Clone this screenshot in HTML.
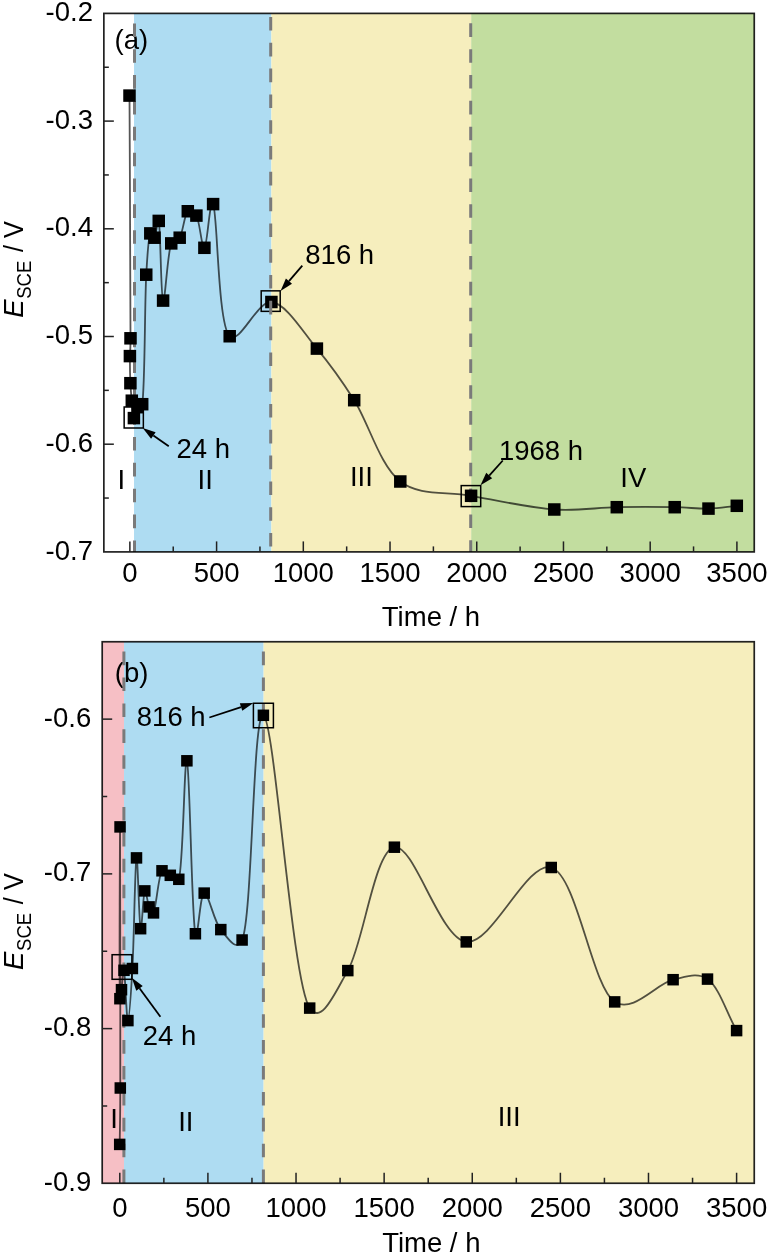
<!DOCTYPE html><html><head><meta charset="utf-8"><style>html,body{margin:0;padding:0;background:#fff;overflow:hidden}svg{display:block}</style></head><body>
<svg width="768" height="1256" viewBox="0 0 768 1256" font-family="'Liberation Sans', sans-serif" fill="#000">
<rect x="103.85" y="13.40" width="30.18" height="538.50" fill="#ffffff"/>
<rect x="134.03" y="13.40" width="137.36" height="538.50" fill="#aedcf2"/>
<rect x="271.40" y="13.40" width="199.80" height="538.50" fill="#f6eebd"/>
<rect x="471.20" y="13.40" width="283.05" height="538.50" fill="#c2dd9f"/>
<text x="114.50" y="49.20" font-size="27.5">(a)</text>
<text x="121.40" y="488.50" font-size="27.5" text-anchor="middle">I</text>
<text x="205.20" y="488.50" font-size="27.5" text-anchor="middle">II</text>
<text x="361.40" y="485.90" font-size="27.5" text-anchor="middle">III</text>
<text x="633.30" y="486.60" font-size="27.5" text-anchor="middle">IV</text>
<line x1="134.50" y1="23.40" x2="134.50" y2="551.90" stroke="#7a7a7a" stroke-width="3" stroke-dasharray="13.6 12.25"/>
<line x1="470.70" y1="23.30" x2="470.70" y2="551.90" stroke="#7a7a7a" stroke-width="3" stroke-dasharray="13.6 12.25"/>
<path d="M129.50,95.60 C129.83,176.50 130.64,303.11 130.50,338.30 C130.43,356.62 129.93,349.12 129.90,356.10 C129.86,363.85 130.05,375.50 130.40,383.20 C130.72,390.11 131.22,394.88 131.80,400.70 C132.38,406.52 132.87,417.48 133.90,418.10 C134.83,418.66 135.93,409.51 137.50,407.20 C138.81,405.27 140.93,411.04 142.20,404.20 C144.99,389.18 144.65,303.68 146.25,274.70 C147.46,252.90 148.38,237.22 150.30,233.40 C151.48,231.05 153.24,238.76 154.50,237.70 C156.15,236.33 157.51,216.87 158.75,220.90 C160.57,226.80 160.87,298.61 163.10,300.60 C165.15,302.44 167.54,252.68 171.25,243.40 C173.65,237.39 177.20,241.78 179.70,237.70 C182.91,232.47 184.52,214.01 187.80,211.25 C190.32,209.13 193.92,211.43 196.40,215.60 C199.78,221.28 201.72,248.75 204.40,247.80 C207.28,246.78 209.63,197.90 213.10,204.10 C217.66,212.25 217.55,324.66 229.70,336.25 C239.39,345.50 257.22,300.61 271.40,302.00 C286.26,303.46 303.07,332.18 316.90,348.60 C330.65,364.93 341.04,379.47 354.20,400.20 C368.69,423.02 379.87,465.76 400.30,481.50 C419.45,496.26 445.99,491.22 471.10,495.80 C497.20,500.56 529.31,507.73 554.30,509.50 C577.49,511.14 596.55,507.58 616.80,507.20 C636.66,506.83 658.82,506.92 674.70,507.20 C688.58,507.45 697.96,508.87 708.50,508.60 C718.60,508.34 727.37,506.73 736.80,505.80" fill="none" stroke="#555" stroke-width="1.8" style="mix-blend-mode:multiply"/>
<rect x="123.25" y="89.35" width="12.50" height="12.50" fill="#000"/>
<rect x="124.25" y="332.05" width="12.50" height="12.50" fill="#000"/>
<rect x="123.65" y="349.85" width="12.50" height="12.50" fill="#000"/>
<rect x="124.15" y="376.95" width="12.50" height="12.50" fill="#000"/>
<rect x="125.55" y="394.45" width="12.50" height="12.50" fill="#000"/>
<rect x="127.65" y="411.85" width="12.50" height="12.50" fill="#000"/>
<rect x="131.25" y="400.95" width="12.50" height="12.50" fill="#000"/>
<rect x="135.95" y="397.95" width="12.50" height="12.50" fill="#000"/>
<rect x="140.00" y="268.45" width="12.50" height="12.50" fill="#000"/>
<rect x="144.05" y="227.15" width="12.50" height="12.50" fill="#000"/>
<rect x="148.25" y="231.45" width="12.50" height="12.50" fill="#000"/>
<rect x="152.50" y="214.65" width="12.50" height="12.50" fill="#000"/>
<rect x="156.85" y="294.35" width="12.50" height="12.50" fill="#000"/>
<rect x="165.00" y="237.15" width="12.50" height="12.50" fill="#000"/>
<rect x="173.45" y="231.45" width="12.50" height="12.50" fill="#000"/>
<rect x="181.55" y="205.00" width="12.50" height="12.50" fill="#000"/>
<rect x="190.15" y="209.35" width="12.50" height="12.50" fill="#000"/>
<rect x="198.15" y="241.55" width="12.50" height="12.50" fill="#000"/>
<rect x="206.85" y="197.85" width="12.50" height="12.50" fill="#000"/>
<rect x="223.45" y="330.00" width="12.50" height="12.50" fill="#000"/>
<rect x="265.15" y="295.75" width="12.50" height="12.50" fill="#000"/>
<rect x="310.65" y="342.35" width="12.50" height="12.50" fill="#000"/>
<rect x="347.95" y="393.95" width="12.50" height="12.50" fill="#000"/>
<rect x="394.05" y="475.25" width="12.50" height="12.50" fill="#000"/>
<rect x="464.85" y="489.55" width="12.50" height="12.50" fill="#000"/>
<rect x="548.05" y="503.25" width="12.50" height="12.50" fill="#000"/>
<rect x="610.55" y="500.95" width="12.50" height="12.50" fill="#000"/>
<rect x="668.45" y="500.95" width="12.50" height="12.50" fill="#000"/>
<rect x="702.25" y="502.35" width="12.50" height="12.50" fill="#000"/>
<rect x="730.55" y="499.55" width="12.50" height="12.50" fill="#000"/>
<rect x="124.15" y="407.00" width="19.20" height="21.00" fill="none" stroke="#000" stroke-width="1.5"/>
<rect x="261.20" y="290.85" width="19.00" height="20.50" fill="none" stroke="#000" stroke-width="1.5"/>
<rect x="461.20" y="485.60" width="19.50" height="21.00" fill="none" stroke="#000" stroke-width="1.5"/>
<line x1="270.70" y1="17.00" x2="270.70" y2="551.90" stroke="#7a7a7a" stroke-width="3" stroke-dasharray="13.6 12.20"/>
<line x1="168.75" y1="446.25" x2="153.37" y2="435.53" stroke="#000" stroke-width="1.8"/>
<polygon points="142.70,428.10 155.65,432.25 151.08,438.81" fill="#000"/>
<line x1="302.30" y1="265.60" x2="288.97" y2="281.14" stroke="#000" stroke-width="1.8"/>
<polygon points="280.50,291.00 285.93,278.53 292.00,283.74" fill="#000"/>
<line x1="502.80" y1="460.50" x2="489.21" y2="475.55" stroke="#000" stroke-width="1.8"/>
<polygon points="480.50,485.20 486.24,472.87 492.18,478.23" fill="#000"/>
<text x="176.50" y="457.90" font-size="27.5">24 h</text>
<text x="305.30" y="263.90" font-size="27.5">816 h</text>
<text x="498.90" y="459.60" font-size="27.5">1968 h</text>
<rect x="103.85" y="13.40" width="650.40" height="538.50" fill="none" stroke="#222" stroke-width="1.7" style="mix-blend-mode:multiply"/>
<line x1="129.87" y1="551.90" x2="129.87" y2="541.40" stroke="#222" stroke-width="1.5"/>
<text x="129.87" y="581.50" font-size="27.5" text-anchor="middle">0</text>
<line x1="173.23" y1="551.90" x2="173.23" y2="546.40" stroke="#222" stroke-width="1.5"/>
<line x1="216.59" y1="551.90" x2="216.59" y2="541.40" stroke="#222" stroke-width="1.5"/>
<text x="216.59" y="581.50" font-size="27.5" text-anchor="middle">500</text>
<line x1="259.95" y1="551.90" x2="259.95" y2="546.40" stroke="#222" stroke-width="1.5"/>
<line x1="303.31" y1="551.90" x2="303.31" y2="541.40" stroke="#222" stroke-width="1.5"/>
<text x="303.31" y="581.50" font-size="27.5" text-anchor="middle">1000</text>
<line x1="346.67" y1="551.90" x2="346.67" y2="546.40" stroke="#222" stroke-width="1.5"/>
<line x1="390.03" y1="551.90" x2="390.03" y2="541.40" stroke="#222" stroke-width="1.5"/>
<text x="390.03" y="581.50" font-size="27.5" text-anchor="middle">1500</text>
<line x1="433.39" y1="551.90" x2="433.39" y2="546.40" stroke="#222" stroke-width="1.5"/>
<line x1="476.75" y1="551.90" x2="476.75" y2="541.40" stroke="#222" stroke-width="1.5"/>
<text x="476.75" y="581.50" font-size="27.5" text-anchor="middle">2000</text>
<line x1="520.11" y1="551.90" x2="520.11" y2="546.40" stroke="#222" stroke-width="1.5"/>
<line x1="563.47" y1="551.90" x2="563.47" y2="541.40" stroke="#222" stroke-width="1.5"/>
<text x="563.47" y="581.50" font-size="27.5" text-anchor="middle">2500</text>
<line x1="606.83" y1="551.90" x2="606.83" y2="546.40" stroke="#222" stroke-width="1.5"/>
<line x1="650.19" y1="551.90" x2="650.19" y2="541.40" stroke="#222" stroke-width="1.5"/>
<text x="650.19" y="581.50" font-size="27.5" text-anchor="middle">3000</text>
<line x1="693.55" y1="551.90" x2="693.55" y2="546.40" stroke="#222" stroke-width="1.5"/>
<line x1="736.91" y1="551.90" x2="736.91" y2="541.40" stroke="#222" stroke-width="1.5"/>
<text x="736.91" y="581.50" font-size="27.5" text-anchor="middle">3500</text>
<text x="93.00" y="21.00" font-size="27.5" text-anchor="end">-0.2</text>
<line x1="103.85" y1="67.25" x2="108.85" y2="67.25" stroke="#222" stroke-width="1.5"/>
<line x1="103.85" y1="121.10" x2="113.85" y2="121.10" stroke="#222" stroke-width="1.5"/>
<text x="93.00" y="128.70" font-size="27.5" text-anchor="end">-0.3</text>
<line x1="103.85" y1="174.95" x2="108.85" y2="174.95" stroke="#222" stroke-width="1.5"/>
<line x1="103.85" y1="228.80" x2="113.85" y2="228.80" stroke="#222" stroke-width="1.5"/>
<text x="93.00" y="236.40" font-size="27.5" text-anchor="end">-0.4</text>
<line x1="103.85" y1="282.65" x2="108.85" y2="282.65" stroke="#222" stroke-width="1.5"/>
<line x1="103.85" y1="336.50" x2="113.85" y2="336.50" stroke="#222" stroke-width="1.5"/>
<text x="93.00" y="344.10" font-size="27.5" text-anchor="end">-0.5</text>
<line x1="103.85" y1="390.35" x2="108.85" y2="390.35" stroke="#222" stroke-width="1.5"/>
<line x1="103.85" y1="444.20" x2="113.85" y2="444.20" stroke="#222" stroke-width="1.5"/>
<text x="93.00" y="451.80" font-size="27.5" text-anchor="end">-0.6</text>
<line x1="103.85" y1="498.05" x2="108.85" y2="498.05" stroke="#222" stroke-width="1.5"/>
<text x="93.00" y="559.50" font-size="27.5" text-anchor="end">-0.7</text>
<text x="431.00" y="625.80" font-size="27.5" text-anchor="middle">Time / h</text>
<text transform="translate(22.50,317.80) rotate(-90)" font-size="27.5" font-style="italic">E</text>
<text transform="translate(30.50,298.80) rotate(-90)" font-size="20.6" textLength="38.2" lengthAdjust="spacingAndGlyphs">SCE</text>
<text transform="translate(22.50,252.00) rotate(-90)" font-size="27.5" textLength="31.0" lengthAdjust="spacingAndGlyphs">/ V</text>
<rect x="102.20" y="641.75" width="21.83" height="541.50" fill="#f6bfc5"/>
<rect x="124.03" y="641.75" width="139.57" height="541.50" fill="#aedcf2"/>
<rect x="263.60" y="641.75" width="490.65" height="541.50" fill="#f6eebd"/>
<text x="114.80" y="681.50" font-size="27.5">(b)</text>
<text x="114.00" y="1127.70" font-size="27.5" text-anchor="middle">I</text>
<text x="185.80" y="1130.60" font-size="27.5" text-anchor="middle">II</text>
<text x="509.20" y="1126.25" font-size="27.5" text-anchor="middle">III</text>
<line x1="123.90" y1="651.60" x2="123.90" y2="1183.25" stroke="#7a7a7a" stroke-width="3" stroke-dasharray="13.6 12.30"/>
<line x1="263.40" y1="651.60" x2="263.40" y2="1183.25" stroke="#7a7a7a" stroke-width="3" stroke-dasharray="13.6 12.30"/>
<path d="M119.70,1144.40 C119.90,1125.60 120.20,1123.23 120.30,1088.00 C120.44,1036.32 120.12,834.69 120.05,826.90 C119.99,819.89 119.17,984.34 119.90,998.70 C120.25,1005.60 120.90,993.76 121.50,989.70 C122.23,984.79 123.08,968.08 124.00,970.30 C125.16,973.11 126.51,1020.75 127.90,1020.60 C129.31,1020.45 131.07,991.85 132.40,968.50 C134.01,940.34 135.05,861.39 136.50,857.90 C137.80,854.78 139.09,925.75 140.60,928.70 C141.89,931.22 143.20,892.93 144.80,890.90 C146.10,889.25 147.47,903.16 149.10,906.90 C150.43,909.97 151.89,915.23 153.50,912.90 C155.99,909.28 158.45,875.20 162.00,870.80 C164.43,867.78 167.50,873.88 170.30,875.30 C173.10,876.72 176.45,885.69 178.80,879.30 C183.23,867.25 184.26,756.48 186.90,760.80 C189.80,765.54 191.77,921.40 195.40,933.75 C197.94,942.40 199.94,893.68 204.20,893.10 C208.43,892.53 213.90,921.81 220.80,929.60 C226.85,936.43 236.11,953.26 242.10,940.00 C252.62,916.71 252.77,709.99 263.40,715.30 C274.78,720.98 291.81,981.21 309.70,1008.10 C321.36,1025.63 335.24,992.12 347.80,970.60 C363.55,943.63 374.28,851.09 394.40,847.20 C414.00,843.41 439.91,938.86 466.25,941.90 C492.25,944.91 527.06,860.13 551.25,867.50 C577.16,875.40 591.87,987.01 614.70,1001.90 C633.08,1013.89 656.94,983.25 673.10,979.70 C687.02,976.64 697.43,972.22 707.50,979.10 C719.03,986.98 726.90,1013.43 736.60,1030.60" fill="none" stroke="#555" stroke-width="1.8" style="mix-blend-mode:multiply"/>
<rect x="113.95" y="1138.65" width="11.50" height="11.50" fill="#000"/>
<rect x="114.55" y="1082.25" width="11.50" height="11.50" fill="#000"/>
<rect x="114.30" y="821.15" width="11.50" height="11.50" fill="#000"/>
<rect x="114.15" y="992.95" width="11.50" height="11.50" fill="#000"/>
<rect x="115.75" y="983.95" width="11.50" height="11.50" fill="#000"/>
<rect x="118.25" y="964.55" width="11.50" height="11.50" fill="#000"/>
<rect x="122.15" y="1014.85" width="11.50" height="11.50" fill="#000"/>
<rect x="126.65" y="962.75" width="11.50" height="11.50" fill="#000"/>
<rect x="130.75" y="852.15" width="11.50" height="11.50" fill="#000"/>
<rect x="134.85" y="922.95" width="11.50" height="11.50" fill="#000"/>
<rect x="139.05" y="885.15" width="11.50" height="11.50" fill="#000"/>
<rect x="143.35" y="901.15" width="11.50" height="11.50" fill="#000"/>
<rect x="147.75" y="907.15" width="11.50" height="11.50" fill="#000"/>
<rect x="156.25" y="865.05" width="11.50" height="11.50" fill="#000"/>
<rect x="164.55" y="869.55" width="11.50" height="11.50" fill="#000"/>
<rect x="173.05" y="873.55" width="11.50" height="11.50" fill="#000"/>
<rect x="181.15" y="755.05" width="11.50" height="11.50" fill="#000"/>
<rect x="189.65" y="928.00" width="11.50" height="11.50" fill="#000"/>
<rect x="198.45" y="887.35" width="11.50" height="11.50" fill="#000"/>
<rect x="215.05" y="923.85" width="11.50" height="11.50" fill="#000"/>
<rect x="236.35" y="934.25" width="11.50" height="11.50" fill="#000"/>
<rect x="257.65" y="709.55" width="11.50" height="11.50" fill="#000"/>
<rect x="303.95" y="1002.35" width="11.50" height="11.50" fill="#000"/>
<rect x="342.05" y="964.85" width="11.50" height="11.50" fill="#000"/>
<rect x="388.65" y="841.45" width="11.50" height="11.50" fill="#000"/>
<rect x="460.50" y="936.15" width="11.50" height="11.50" fill="#000"/>
<rect x="545.50" y="861.75" width="11.50" height="11.50" fill="#000"/>
<rect x="608.95" y="996.15" width="11.50" height="11.50" fill="#000"/>
<rect x="667.35" y="973.95" width="11.50" height="11.50" fill="#000"/>
<rect x="701.75" y="973.35" width="11.50" height="11.50" fill="#000"/>
<rect x="730.85" y="1024.85" width="11.50" height="11.50" fill="#000"/>
<rect x="112.10" y="954.70" width="19.80" height="24.60" fill="none" stroke="#000" stroke-width="1.5"/>
<rect x="253.40" y="703.25" width="20.00" height="24.50" fill="none" stroke="#000" stroke-width="1.5"/>
<line x1="160.40" y1="1016.70" x2="139.50" y2="988.27" stroke="#000" stroke-width="1.8"/>
<polygon points="131.80,977.80 142.72,985.90 136.28,990.64" fill="#000"/>
<line x1="209.40" y1="717.50" x2="241.05" y2="707.07" stroke="#000" stroke-width="1.8"/>
<polygon points="253.40,703.00 242.31,710.87 239.80,703.27" fill="#000"/>
<text x="142.70" y="1044.50" font-size="27.5">24 h</text>
<text x="136.80" y="725.90" font-size="27.5">816 h</text>
<rect x="102.20" y="641.75" width="652.05" height="541.50" fill="none" stroke="#222" stroke-width="1.7" style="mix-blend-mode:multiply"/>
<line x1="119.80" y1="1183.25" x2="119.80" y2="1172.75" stroke="#222" stroke-width="1.5"/>
<text x="119.80" y="1217.00" font-size="27.5" text-anchor="middle">0</text>
<line x1="163.86" y1="1183.25" x2="163.86" y2="1177.75" stroke="#222" stroke-width="1.5"/>
<line x1="207.91" y1="1183.25" x2="207.91" y2="1172.75" stroke="#222" stroke-width="1.5"/>
<text x="207.91" y="1217.00" font-size="27.5" text-anchor="middle">500</text>
<line x1="251.97" y1="1183.25" x2="251.97" y2="1177.75" stroke="#222" stroke-width="1.5"/>
<line x1="296.03" y1="1183.25" x2="296.03" y2="1172.75" stroke="#222" stroke-width="1.5"/>
<text x="296.03" y="1217.00" font-size="27.5" text-anchor="middle">1000</text>
<line x1="340.09" y1="1183.25" x2="340.09" y2="1177.75" stroke="#222" stroke-width="1.5"/>
<line x1="384.14" y1="1183.25" x2="384.14" y2="1172.75" stroke="#222" stroke-width="1.5"/>
<text x="384.14" y="1217.00" font-size="27.5" text-anchor="middle">1500</text>
<line x1="428.20" y1="1183.25" x2="428.20" y2="1177.75" stroke="#222" stroke-width="1.5"/>
<line x1="472.26" y1="1183.25" x2="472.26" y2="1172.75" stroke="#222" stroke-width="1.5"/>
<text x="472.26" y="1217.00" font-size="27.5" text-anchor="middle">2000</text>
<line x1="516.32" y1="1183.25" x2="516.32" y2="1177.75" stroke="#222" stroke-width="1.5"/>
<line x1="560.38" y1="1183.25" x2="560.38" y2="1172.75" stroke="#222" stroke-width="1.5"/>
<text x="560.38" y="1217.00" font-size="27.5" text-anchor="middle">2500</text>
<line x1="604.43" y1="1183.25" x2="604.43" y2="1177.75" stroke="#222" stroke-width="1.5"/>
<line x1="648.49" y1="1183.25" x2="648.49" y2="1172.75" stroke="#222" stroke-width="1.5"/>
<text x="648.49" y="1217.00" font-size="27.5" text-anchor="middle">3000</text>
<line x1="692.55" y1="1183.25" x2="692.55" y2="1177.75" stroke="#222" stroke-width="1.5"/>
<line x1="736.60" y1="1183.25" x2="736.60" y2="1172.75" stroke="#222" stroke-width="1.5"/>
<text x="736.60" y="1217.00" font-size="27.5" text-anchor="middle">3500</text>
<line x1="102.20" y1="719.13" x2="112.20" y2="719.13" stroke="#222" stroke-width="1.5"/>
<text x="91.20" y="726.53" font-size="27.5" text-anchor="end">-0.6</text>
<line x1="102.20" y1="796.50" x2="107.20" y2="796.50" stroke="#222" stroke-width="1.5"/>
<line x1="102.20" y1="873.88" x2="112.20" y2="873.88" stroke="#222" stroke-width="1.5"/>
<text x="91.20" y="881.27" font-size="27.5" text-anchor="end">-0.7</text>
<line x1="102.20" y1="951.25" x2="107.20" y2="951.25" stroke="#222" stroke-width="1.5"/>
<line x1="102.20" y1="1028.62" x2="112.20" y2="1028.62" stroke="#222" stroke-width="1.5"/>
<text x="91.20" y="1036.03" font-size="27.5" text-anchor="end">-0.8</text>
<line x1="102.20" y1="1106.00" x2="107.20" y2="1106.00" stroke="#222" stroke-width="1.5"/>
<text x="91.20" y="1190.78" font-size="27.5" text-anchor="end">-0.9</text>
<text x="431.30" y="1252.00" font-size="27.5" text-anchor="middle">Time / h</text>
<text transform="translate(22.50,970.00) rotate(-90)" font-size="27.5" font-style="italic">E</text>
<text transform="translate(30.50,951.00) rotate(-90)" font-size="20.6" textLength="38.2" lengthAdjust="spacingAndGlyphs">SCE</text>
<text transform="translate(22.50,904.20) rotate(-90)" font-size="27.5" textLength="31.0" lengthAdjust="spacingAndGlyphs">/ V</text>
</svg></body></html>
